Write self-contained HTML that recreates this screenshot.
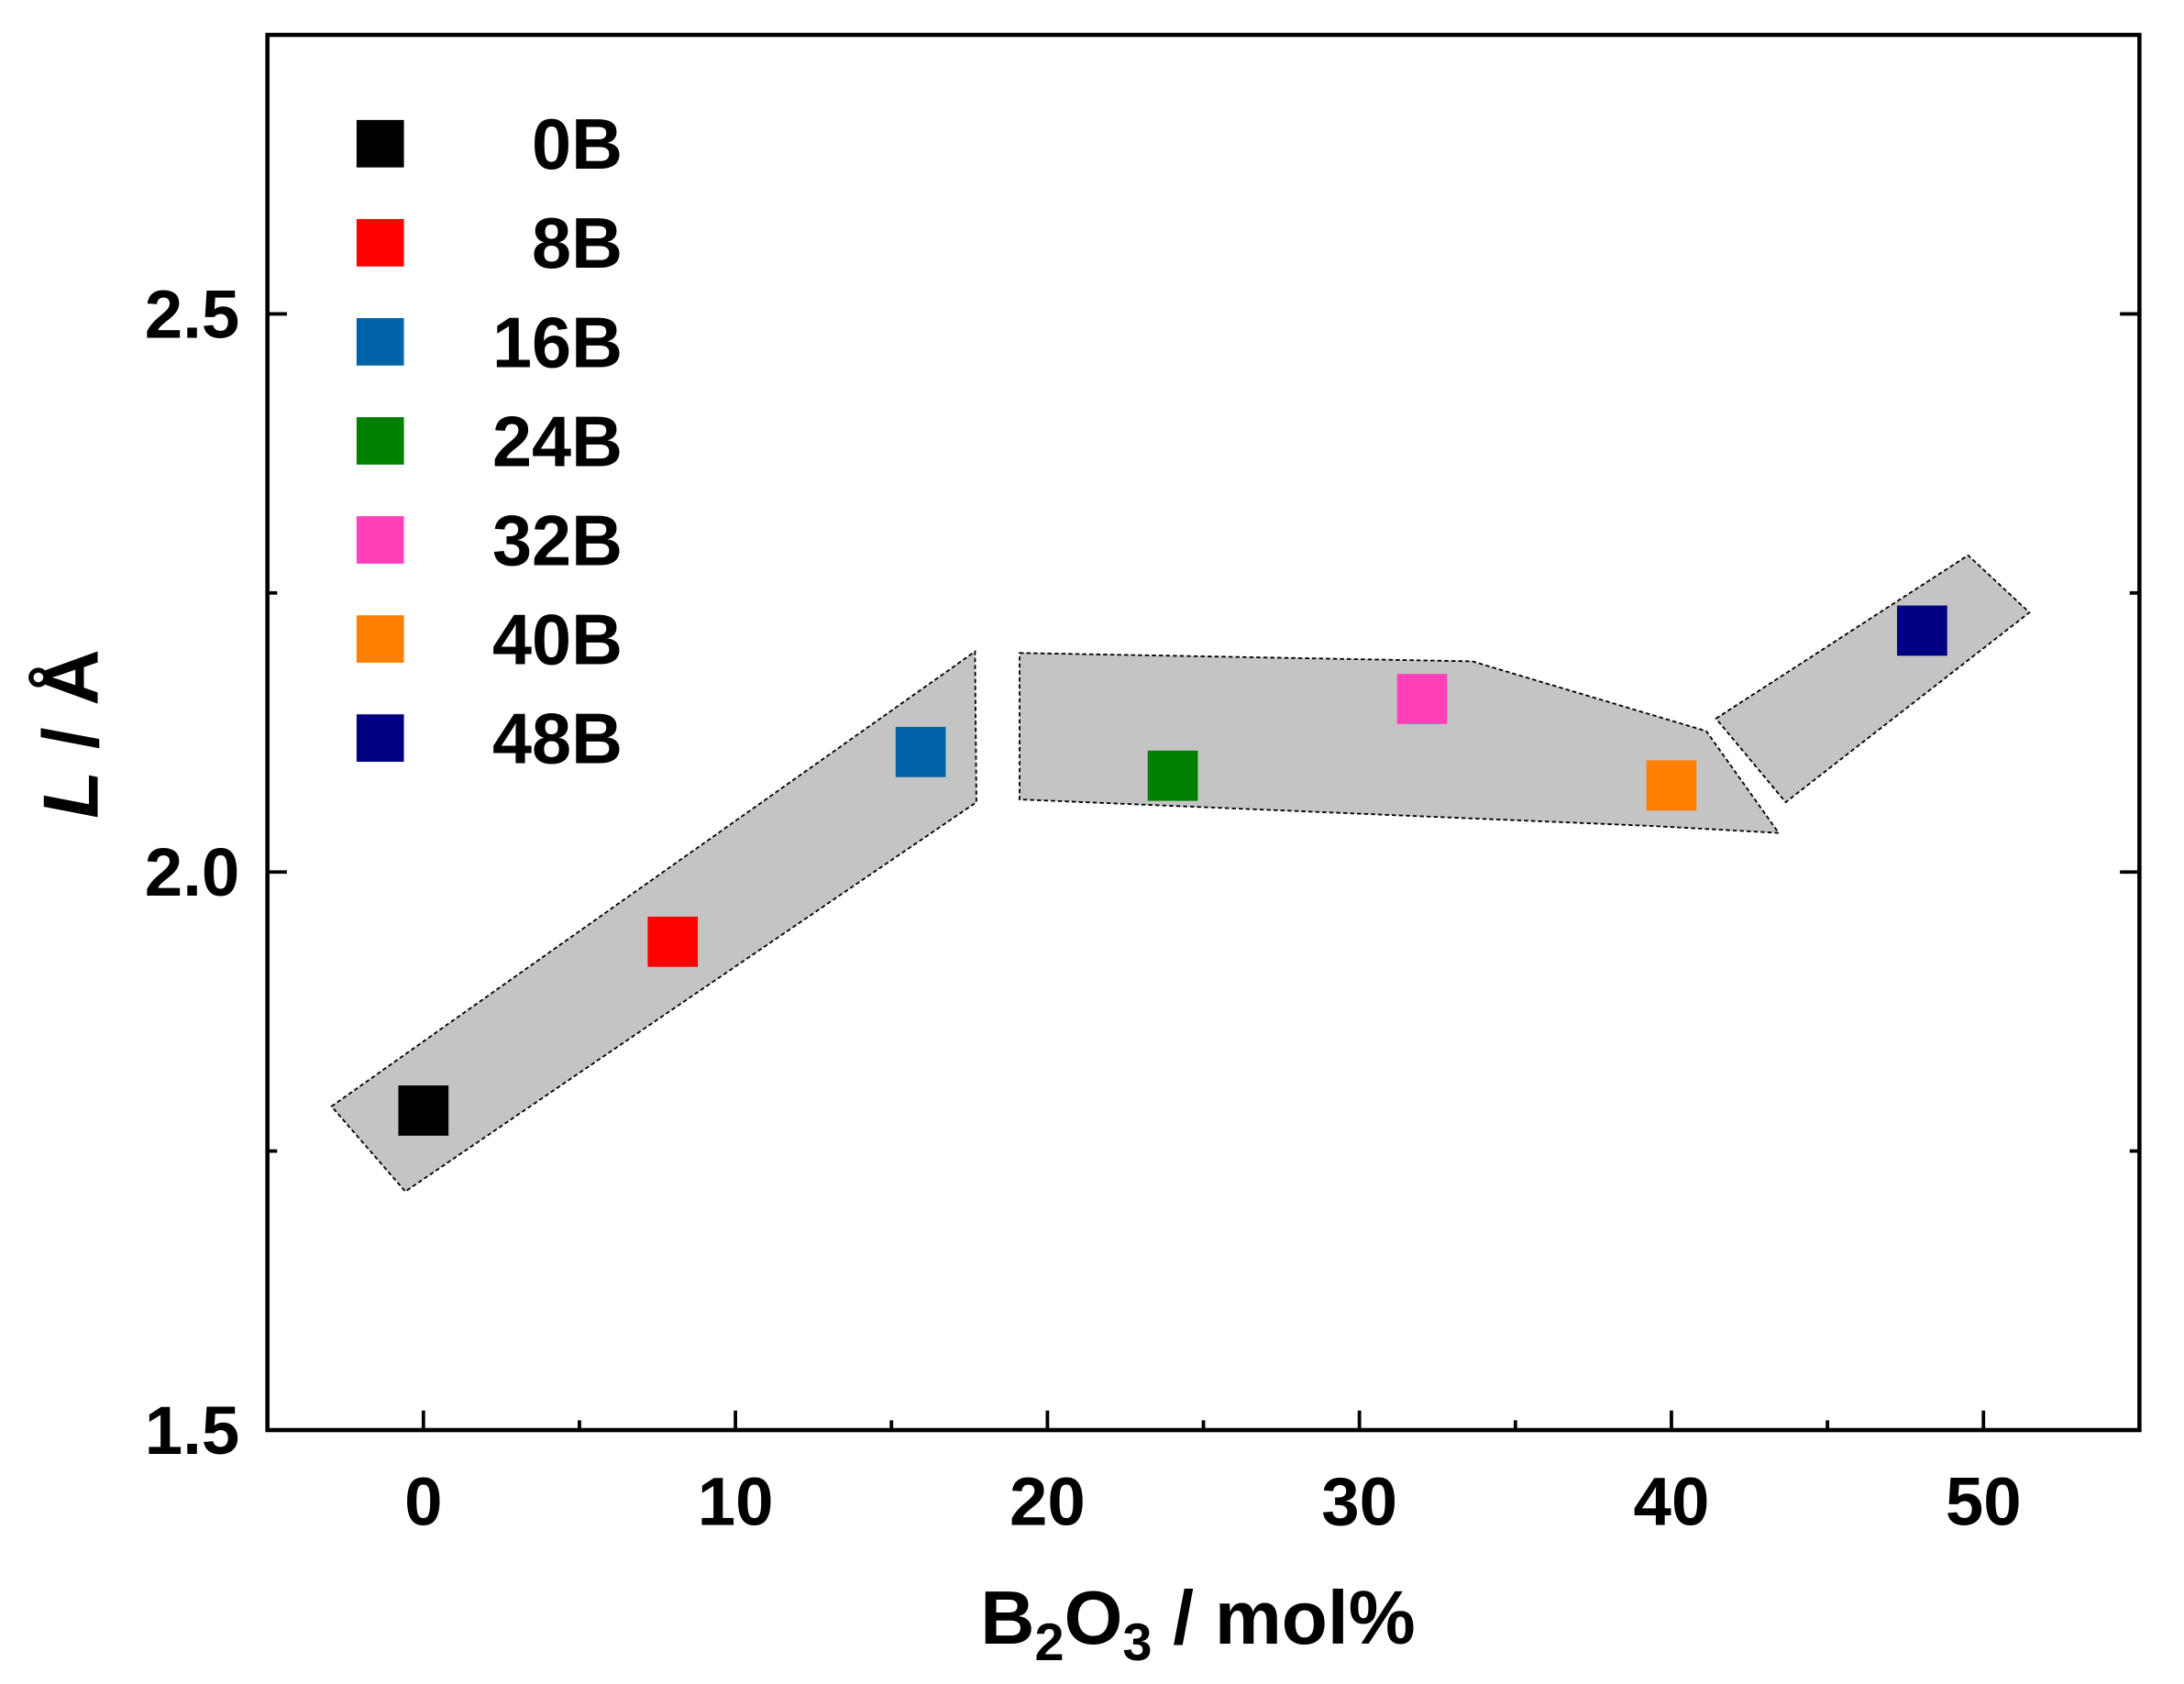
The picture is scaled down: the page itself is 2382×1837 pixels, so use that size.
<!DOCTYPE html>
<html><head><meta charset="utf-8"><style>
html,body{margin:0;padding:0;background:#fff;}
svg{display:block;}
text{font-family:"Liberation Sans",Arial,sans-serif;font-weight:bold;fill:#000;}
</style></head><body>
<svg width="2382" height="1837" viewBox="0 0 1568 1207" preserveAspectRatio="none" xmlns="http://www.w3.org/2000/svg">
<rect x="0" y="0" width="1568" height="1207" fill="#fff"/>
<g fill="#c4c4c4" stroke="#000" stroke-width="1.2" stroke-dasharray="3,2">
<polygon points="238,793 700,467 701,575 291,854"/>
<polygon points="732,468 1057,474 1225,524 1277,597 1186,592 732,573"/>
<polygon points="1232,515 1413,398 1457,439 1282,575"/>
</g>
<g>
<rect x="286" y="778" width="36" height="36" fill="#000"/>
<rect x="465" y="657" width="36" height="36" fill="#ff0000"/>
<rect x="643" y="521" width="36" height="36" fill="#0063a8"/>
<rect x="824" y="538" width="36" height="36" fill="#008000"/>
<rect x="1003" y="483" width="36" height="36" fill="#ff40b8"/>
<rect x="1182" y="545" width="36" height="36" fill="#ff8000"/>
<rect x="1362" y="434" width="36" height="36" fill="#000080"/>
</g>
<rect x="192" y="25" width="1344" height="1000" fill="none" stroke="#000" stroke-width="3"/>
<g stroke="#000" stroke-width="2.5">
<line x1="304" y1="1025" x2="304" y2="1011"/><line x1="416" y1="1025" x2="416" y2="1018"/>
<line x1="528" y1="1025" x2="528" y2="1011"/><line x1="640" y1="1025" x2="640" y2="1018"/>
<line x1="752" y1="1025" x2="752" y2="1011"/><line x1="864" y1="1025" x2="864" y2="1018"/>
<line x1="976" y1="1025" x2="976" y2="1011"/><line x1="1088" y1="1025" x2="1088" y2="1018"/>
<line x1="1200" y1="1025" x2="1200" y2="1011"/><line x1="1312" y1="1025" x2="1312" y2="1018"/>
<line x1="1424" y1="1025" x2="1424" y2="1011"/>
<line x1="192" y1="225" x2="206" y2="225"/><line x1="192" y1="625" x2="206" y2="625"/>
<line x1="192" y1="425" x2="199" y2="425"/><line x1="192" y1="825" x2="199" y2="825"/>
<line x1="1536" y1="225" x2="1522" y2="225"/><line x1="1536" y1="625" x2="1522" y2="625"/>
<line x1="1536" y1="425" x2="1529" y2="425"/><line x1="1536" y1="825" x2="1529" y2="825"/>
</g>
<g font-size="49" text-anchor="middle">
<text x="304" y="1093">0</text><text x="528" y="1093">10</text><text x="752" y="1093">20</text>
<text x="976" y="1093">30</text><text x="1200" y="1093">40</text><text x="1424" y="1093">50</text>
</g>
<g font-size="49" text-anchor="end">
<text x="172" y="242">2.5</text><text x="172" y="642">2.0</text><text x="172" y="1042">1.5</text>
</g>
<text x="860" y="1178" font-size="54" text-anchor="middle">B<tspan font-size="38" dy="12">2</tspan><tspan dy="-12">O</tspan><tspan font-size="38" dy="12">3</tspan><tspan dy="-12"> / mol%</tspan></text>
<text transform="translate(70,526) rotate(-90)" font-size="56" text-anchor="middle"><tspan font-style="italic">L</tspan> / Å</text>
<g>
<rect x="256" y="86" width="34" height="34" fill="#000"/>
<rect x="256" y="157" width="34" height="34" fill="#ff0000"/>
<rect x="256" y="228" width="34" height="34" fill="#0063a8"/>
<rect x="256" y="299" width="34" height="34" fill="#008000"/>
<rect x="256" y="370" width="34" height="34" fill="#ff40b8"/>
<rect x="256" y="441" width="34" height="34" fill="#ff8000"/>
<rect x="256" y="512" width="34" height="34" fill="#000080"/>
</g>
<g font-size="51" text-anchor="end">
<text x="447" y="121">0B</text><text x="447" y="192">8B</text><text x="447" y="263">16B</text>
<text x="447" y="334">24B</text><text x="447" y="405">32B</text><text x="447" y="476">40B</text>
<text x="447" y="547">48B</text>
</g>
</svg>
</body></html>
